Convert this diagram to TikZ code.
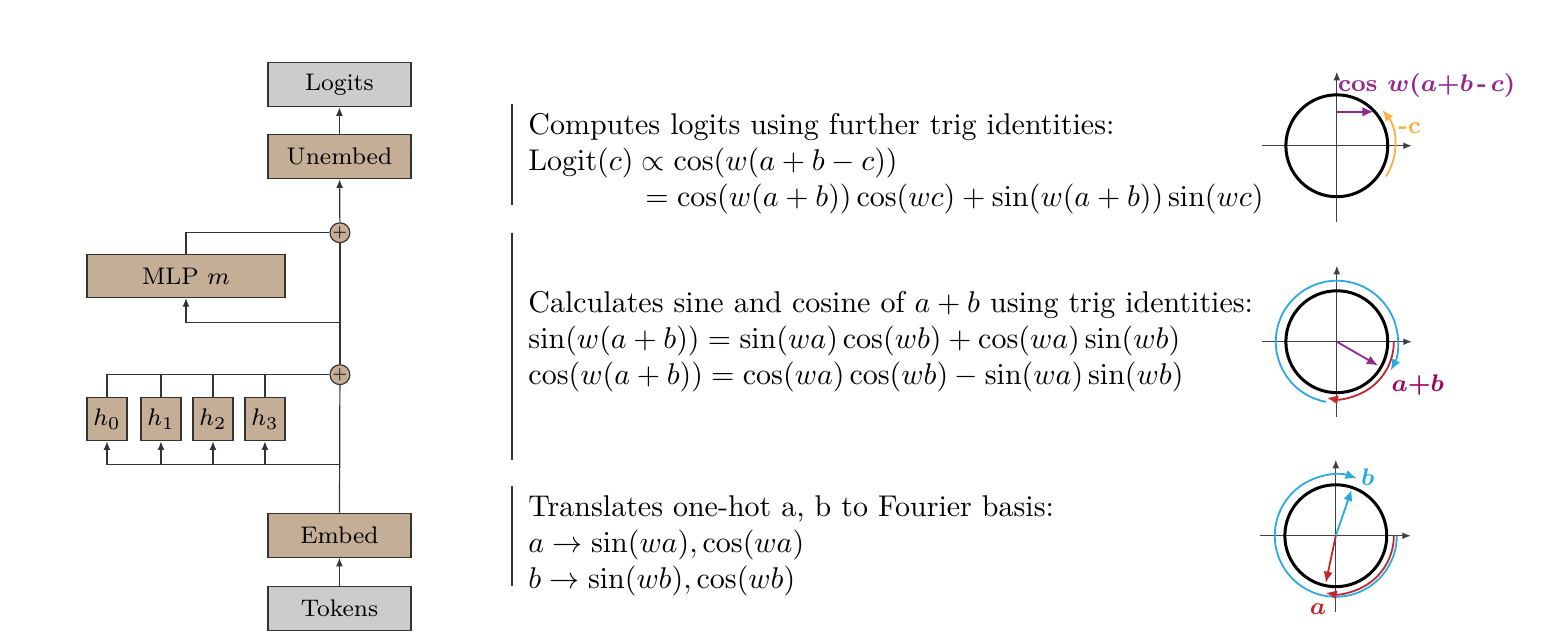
\documentclass[tikz,border=0pt]{standalone}
\usetikzlibrary{arrows.meta}
\definecolor{tanbox}{RGB}{196,174,150}
\definecolor{iogray}{RGB}{204,204,204}
\definecolor{cpurple}{RGB}{147,39,143}
\definecolor{cmagenta}{RGB}{158,0,93}
\definecolor{cblue}{RGB}{41,171,226}
\definecolor{cred}{RGB}{193,39,45}
\definecolor{corange}{RGB}{251,176,59}

\begin{document}
\begin{tikzpicture}[
  block/.style={draw=black!80, fill=tanbox, minimum width=1.675cm, minimum height=0.515cm, inner sep=0pt, font=\footnotesize},
  ioblock/.style={block, fill=iogray},
  head/.style={block, minimum width=0.469cm, minimum height=0.504cm},
  plus/.style={circle, draw=black!80, fill=tanbox, inner sep=0pt, minimum size=0.23cm, font=\tiny},
  flow/.style={-{Latex[length=1mm,width=0.8mm]}, black!80, thin},
  wire/.style={black!80, thin},
  axis/.style={-{Latex[length=1mm,width=0.8mm]}, black!75, thin},
  unit/.style={line width=1pt},
  vec/.style={-{Latex[length=1.3mm,width=1.1mm]}, line width=0.6pt},
  note/.style={anchor=base west, align=left, inner sep=0pt},
  tag/.style={inner sep=0pt, font=\footnotesize\bfseries\boldmath},
]
  \useasboundingbox (0,0) rectangle (18.36,7.53);

  % residual stream
  \node[ioblock] (tok) at (3.977,0.404) {Tokens};
  \node[block] (emb) at (3.977,1.259) {Embed};
  \node[plus] (plus2) at (3.983,3.140) {$+$};
  \node[plus] (plus1) at (3.983,4.803) {$+$};
  \node[block] (unemb) at (3.977,5.693) {Unembed};
  \node[ioblock] (logits) at (3.977,6.537) {Logits};
  \node[block, minimum width=2.32cm, minimum height=0.50cm] (mlp) at (2.179,4.294) {MLP $m$};
  \coordinate (bus) at (3.983,2.085);
  \coordinate (mlpin) at (3.983,3.749);

  \draw[flow] (tok) -- (emb);
  \draw[wire] (emb) -- (plus2);
  \draw[wire] (plus2) -- (plus1);
  \draw[flow] (plus1) -- (unemb);
  \draw[flow] (unemb) -- (logits);

  % attention heads
  \draw[wire] (bus) -- (1.253,2.085);
  \foreach \i/\x in {0/1.253,1/1.886,2/2.495,3/3.104} {
      \node[head] (h\i) at (\x,2.618) {$h_\i$};
      \draw[flow] (h\i.south |- bus) -- (h\i.south);
      \draw[wire] (h\i.north) |- (plus2.west);
  }

  % mlp
  \draw[flow] (mlpin) -| (mlp.south);
  \draw[wire] (mlp.north) |- (plus1.west);

  % separators
  \draw[black!80] (5.998,6.314) -- (5.998,5.131);
  \draw[black!80] (5.998,4.803) -- (5.998,2.144);
  \draw[black!80] (5.998,1.839) -- (5.998,0.668);

  % descriptions (anchored at the last line)
  \node[note] (txtup) at (6.185,5.115) {Computes logits using further trig identities:\\
    $\mathrm{Logit}(c) \propto \cos(w(a+b-c))$\\
    \hspace*{39pt}$= \cos(w(a+b))\cos(wc) + \sin(w(a+b))\sin(wc)$};
  \node[note] (txtmid) at (6.185,3.030) {Calculates sine and cosine of $a+b$ using trig identities:\\
    $\sin(w(a+b)) = \sin(wa)\cos(wb) + \cos(wa)\sin(wb)$\\
    $\cos(w(a+b)) = \cos(wa)\cos(wb) - \sin(wa)\sin(wb)$};
  \node[note] (txtlow) at (6.185,0.630) {Translates one-hot a, b to Fourier basis:\\
    $a \to \sin(wa), \cos(wa)$\\
    $b \to \sin(wb), \cos(wb)$};

  % logit circle
  \coordinate (cu) at (15.663,5.822);
  \draw[axis] ([xshift=-0.879cm]cu) -- ([xshift=0.879cm]cu);
  \draw[axis] ([yshift=-0.890cm]cu) -- ([yshift=0.867cm]cu);
  \draw[unit] (cu) circle (0.597);
  \draw[vec, cpurple] ([yshift=0.398cm]cu) -- ++(0.43,0);
  \draw[vec, corange] (cu) ++(-32:0.68) arc[start angle=-32, end angle=38, radius=0.68];
  \node[tag, text=cpurple] (lcos) at (16.717,6.525) {cos\ $w(a{+}b$\,-\,$c)$};
  \node[tag, text=corange] (lc) at (16.518,6.033) {-c};

  % a+b circle
  \coordinate (cm) at (15.663,3.526);
  \draw[axis] ([xshift=-0.879cm]cm) -- ([xshift=0.879cm]cm);
  \draw[axis] ([yshift=-0.879cm]cm) -- ([yshift=0.890cm]cm);
  \draw[unit] (cm) circle (0.597);
  \draw[vec, cblue] (cm) ++(260:0.715) arc[start angle=260, end angle=-28, radius=0.715];
  \draw[vec, cred] (cm) ++(0:0.668) arc[start angle=0, end angle=-100, radius=0.668];
  \draw[vec, cpurple] (cm) -- ++(-30:0.557);
  \node[tag, text=cmagenta] (lab) at (16.611,3.022) {$a{+}b$};

  % a, b circle
  \coordinate (cl) at (15.651,1.253);
  \draw[axis] ([xshift=-0.890cm]cl) -- ([xshift=0.879cm]cl);
  \draw[axis] ([yshift=-0.890cm]cl) -- ([yshift=0.890cm]cl);
  \draw[unit] (cl) circle (0.597);
  \draw[vec, cblue] (cl) ++(0:0.715) arc[start angle=0, end angle=-290, radius=0.715];
  \draw[vec, cred] (cl) ++(0:0.68) arc[start angle=0, end angle=-100, radius=0.68];
  \draw[vec, cblue] (cl) -- ++(71:0.57);
  \draw[vec, cred] (cl) -- ++(-102:0.563);
  \node[tag, text=cblue] (lb) at (16.026,1.945) {$b$};
  \node[tag, text=cred] (la) at (15.441,0.387) {$a$};
\end{tikzpicture}
\end{document}
